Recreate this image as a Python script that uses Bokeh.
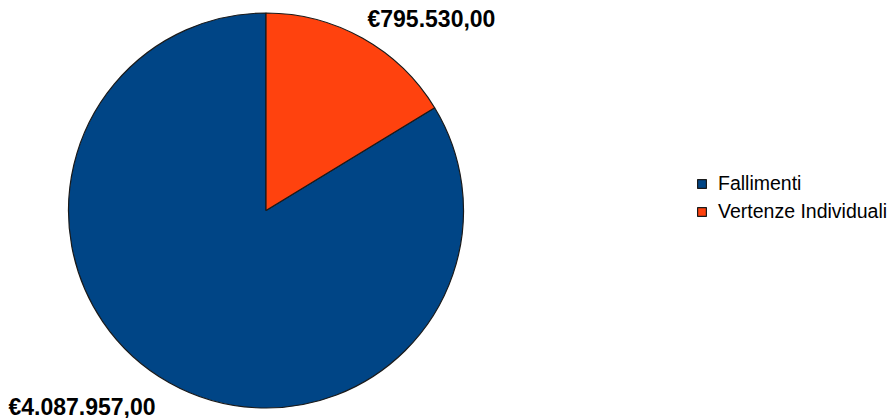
import math
from bokeh.plotting import figure
from bokeh.models import ColumnDataSource, Range1d, Legend, LegendItem
from bokeh.core.properties import value
from bokeh.embed import file_html
from bokeh.resources import INLINE

categories = ["Fallimenti", "Vertenze Individuali"]
amounts = [4087957.00, 795530.00]
colors = ["#004586", "#ff420e"]

W, H = 893, 418


def fmt_eur(v):
    s = f"{v:,.2f}"  # 4,087,957.00
    s = s.replace(",", "X").replace(".", ",").replace("X", ".")
    return "€" + s


total = sum(amounts)
# Pie starts at 12 o'clock, slices go clockwise; the second slice (orange) starts at top
order = [1, 0]
starts, ends = {}, {}
a = math.pi / 2
for i in order:
    span = amounts[i] / total * 2 * math.pi
    starts[i] = a
    ends[i] = a - span
    a -= span

p = figure(width=W, height=H, x_range=Range1d(0, W), y_range=Range1d(0, H),
           output_backend="svg", toolbar_location=None, min_border=0,
           outline_line_color=None, background_fill_color="white",
           border_fill_color="white")
p.axis.visible = False
p.grid.visible = False

cx, cy, r = 265.5, H - 210, 197.5

renderers = []
for i in range(len(categories)):
    src = ColumnDataSource(dict(x=[cx], y=[cy], s=[starts[i]], e=[ends[i]]))
    rr = p.wedge(x="x", y="y", radius=r, start_angle="s", end_angle="e",
                 direction="clock", fill_color=colors[i], line_color="#1a1a1a",
                 line_width=1.2, source=src)
    renderers.append(rr)

# value labels
lab_x = [8, 367]
lab_y = [H - 406, H - 18]
src_l = ColumnDataSource(dict(x=lab_x, y=lab_y, t=[fmt_eur(v) for v in amounts]))
p.text(x="x", y="y", text="t", source=src_l, text_font=value("Liberation Sans"),
       text_font_style="bold", text_font_size="23px", text_baseline="middle",
       text_align="left", text_color="black")

legend = Legend(items=[LegendItem(label=categories[i], renderers=[renderers[i]])
                       for i in range(len(categories))],
                location=(696, H - 225), orientation="vertical",
                label_text_font="Liberation Sans", label_text_font_size="19.5px",
                label_text_color="black", glyph_width=11, glyph_height=11,
                label_height=27, label_standoff=11, spacing=1, padding=0, margin=0,
                border_line_color=None, background_fill_alpha=0)
p.add_layout(legend, "center")

open("out.html", "w").write(file_html(p, INLINE))
